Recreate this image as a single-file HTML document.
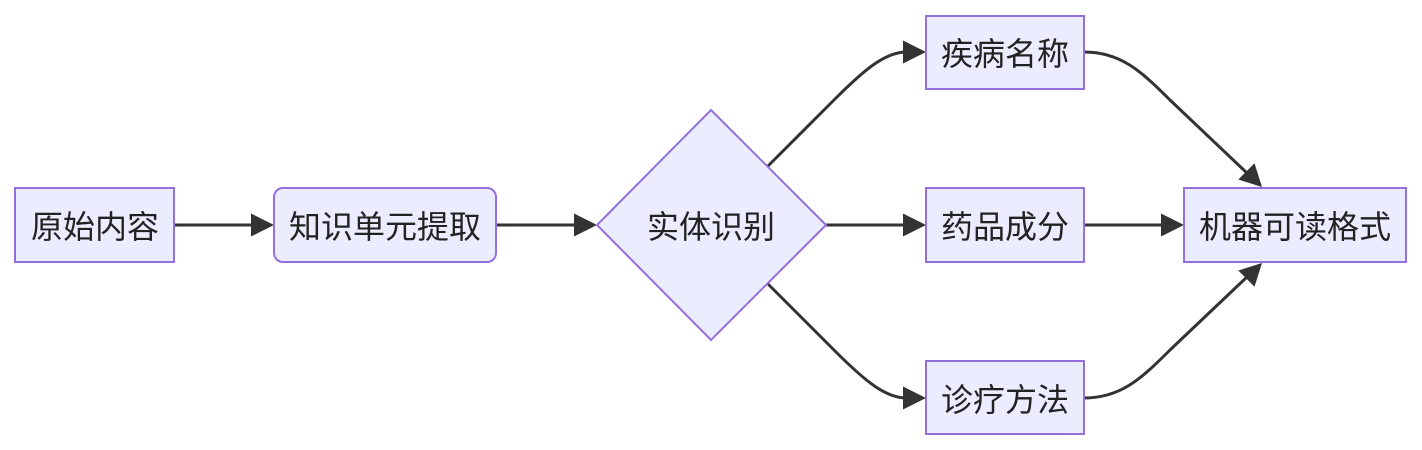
<!DOCTYPE html>
<html>
<head>
<meta charset="utf-8">
<style>
  html,body{margin:0;padding:0;background:#ffffff;}
  svg{display:block;}
  text{font-family:"Liberation Sans","Noto Sans CJK SC",sans-serif;font-size:32px;fill:#222222;}
</style>
</head>
<body>
<svg width="1422" height="450" viewBox="0 0 1422 450" xmlns="http://www.w3.org/2000/svg">
  <g fill="none" stroke="#333333" stroke-width="3">
    <line x1="174" y1="225" x2="252" y2="225"/>
    <line x1="496" y1="225" x2="575" y2="225"/>
    <line x1="826" y1="225" x2="904" y2="225"/>
    <line x1="1084" y1="225" x2="1162" y2="225"/>
    <path d="M768,166 L835,99 C866,68 885,53 905,52"/>
    <path d="M768,284 L835,351 C866,382 885,397 905,398"/>
    <path d="M1084,52 C1120,52 1140,70 1170,100 L1248,174"/>
    <path d="M1084,398 C1120,398 1140,380 1170,350 L1248,276"/>
  </g>
  <g fill="#333333">
    <polygon points="274,225 251,213.5 251,236.5"/>
    <polygon points="597,225 574,213.5 574,236.5"/>
    <polygon points="926,225 903,213.5 903,236.5"/>
    <polygon points="1184,225 1161,213.5 1161,236.5"/>
    <polygon points="926,52 903,40.5 903,63.5"/>
    <polygon points="926,398 903,386.5 903,409.5"/>
    <polygon points="1262,187 1238.3,179.5 1254.5,163.3"/>
    <polygon points="1262,263 1238.3,270.5 1254.5,286.7"/>
  </g>
  <g fill="#ECECFF" stroke="#9370DB" stroke-width="2">
    <rect x="15" y="188" width="159" height="74"/>
    <rect x="274" y="188" width="222" height="74" rx="9" ry="9"/>
    <polygon points="711,110 826,225 711,340 597,225"/>
    <rect x="926" y="16" width="158" height="73"/>
    <rect x="926" y="188" width="158" height="74"/>
    <rect x="926" y="361" width="158" height="73"/>
    <rect x="1184" y="188" width="222" height="74"/>
  </g>
  <g text-anchor="middle" dominant-baseline="central">
    <text x="95" y="227">原始内容</text>
    <text x="385" y="227">知识单元提取</text>
    <text x="711" y="227">实体识别</text>
    <text x="1005" y="54">疾病名称</text>
    <text x="1005" y="227">药品成分</text>
    <text x="1005" y="400">诊疗方法</text>
    <text x="1295" y="227">机器可读格式</text>
  </g>
</svg>
</body>
</html>
